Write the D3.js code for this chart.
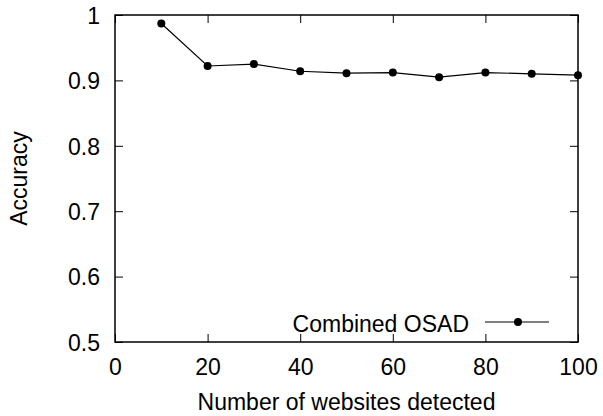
<!DOCTYPE html>
<html>
<head>
<meta charset="utf-8">
<script src="https://cdn.jsdelivr.net/npm/d3@7"></script>
<style>
  body { margin: 0; background: #fff; }
  svg text { font-family: "Liberation Sans", Arial, sans-serif; fill: #000; }
</style>
</head>
<body>
<svg id="chart" width="603" height="416"></svg>
<script>
// data
var websites = [10, 20, 30, 40, 50, 60, 70, 80, 90, 100];
var accuracy = [0.987, 0.922, 0.925, 0.914, 0.911, 0.912, 0.905, 0.912, 0.910, 0.908];
var xTicks = [0, 20, 40, 60, 80, 100];
var yTicks = [0.5, 0.6, 0.7, 0.8, 0.9, 1];
var seriesName = "Combined OSAD";

var svg = d3.select("#chart");
// plot box (note: "top" is reserved on window, so use own names)
var plotLeft = 115, plotRight = 578, plotTop = 15, plotBottom = 342;
var fontSize = 23;

var xScale = d3.scaleLinear().domain([0, 100]).range([plotLeft, plotRight]);
var yScale = d3.scaleLinear().domain([0.5, 1]).range([plotBottom, plotTop]);

// axes, gnuplot style: ticks inward and mirrored
var tickLen = 8;
svg.append("g")
    .attr("transform", "translate(0," + plotBottom + ")")
    .call(d3.axisBottom(xScale).tickValues(xTicks).tickSizeInner(-tickLen).tickSizeOuter(0).tickPadding(16.5))
    .call(function (g) { g.select(".domain").remove(); })
    .selectAll("text").style("font-size", fontSize + "px").attr("dy", "0.71em");
svg.append("g")
    .attr("transform", "translate(0," + plotTop + ")")
    .call(d3.axisTop(xScale).tickValues(xTicks).tickSizeInner(-tickLen).tickSizeOuter(0).tickFormat(""))
    .call(function (g) { g.select(".domain").remove(); });
svg.append("g")
    .attr("transform", "translate(" + plotLeft + ",0)")
    .call(d3.axisLeft(yScale).tickValues(yTicks).tickSizeInner(-tickLen).tickSizeOuter(0).tickPadding(15)
        .tickFormat(function (d) { return d === 1 ? "1" : d3.format(".1f")(d); }))
    .call(function (g) { g.select(".domain").remove(); })
    .selectAll("text").style("font-size", fontSize + "px").attr("dy", "0.36em");
svg.append("g")
    .attr("transform", "translate(" + plotRight + ",0)")
    .call(d3.axisRight(yScale).tickValues(yTicks).tickSizeInner(-tickLen).tickSizeOuter(0).tickFormat(""))
    .call(function (g) { g.select(".domain").remove(); });
svg.selectAll(".tick line").attr("stroke", "#000").attr("stroke-width", 1);

// frame
svg.append("rect")
    .attr("x", plotLeft).attr("y", plotTop)
    .attr("width", plotRight - plotLeft).attr("height", plotBottom - plotTop)
    .attr("fill", "none").attr("stroke", "#000").attr("stroke-width", 1.5);

// series
var points = websites.map(function (w, i) { return [w, accuracy[i]]; });
var line = d3.line()
    .x(function (d) { return xScale(d[0]); })
    .y(function (d) { return yScale(d[1]); });
svg.append("path").datum(points)
    .attr("d", line).attr("fill", "none").attr("stroke", "#000").attr("stroke-width", 1.2);
svg.selectAll("circle.pt").data(points).enter().append("circle")
    .attr("class", "pt")
    .attr("cx", function (d) { return xScale(d[0]); })
    .attr("cy", function (d) { return yScale(d[1]); })
    .attr("r", 4).attr("fill", "#000");

// legend
var legY = 322;
svg.append("text").attr("x", 469).attr("y", 331.5)
    .attr("text-anchor", "end").style("font-size", fontSize + "px").text(seriesName);
svg.append("line").attr("x1", 485).attr("x2", 549).attr("y1", legY).attr("y2", legY)
    .attr("stroke", "#000").attr("stroke-width", 1.2);
svg.append("circle").attr("cx", 518).attr("cy", legY).attr("r", 4).attr("fill", "#000");

// axis titles
svg.append("text").attr("x", (plotLeft + plotRight) / 2).attr("y", 410)
    .attr("text-anchor", "middle").style("font-size", fontSize + "px").text("Number of websites detected");
svg.append("text").attr("transform", "translate(27," + (plotTop + plotBottom) / 2 + ") rotate(-90)")
    .attr("text-anchor", "middle").style("font-size", fontSize + "px").text("Accuracy");
</script>
</body>
</html>
